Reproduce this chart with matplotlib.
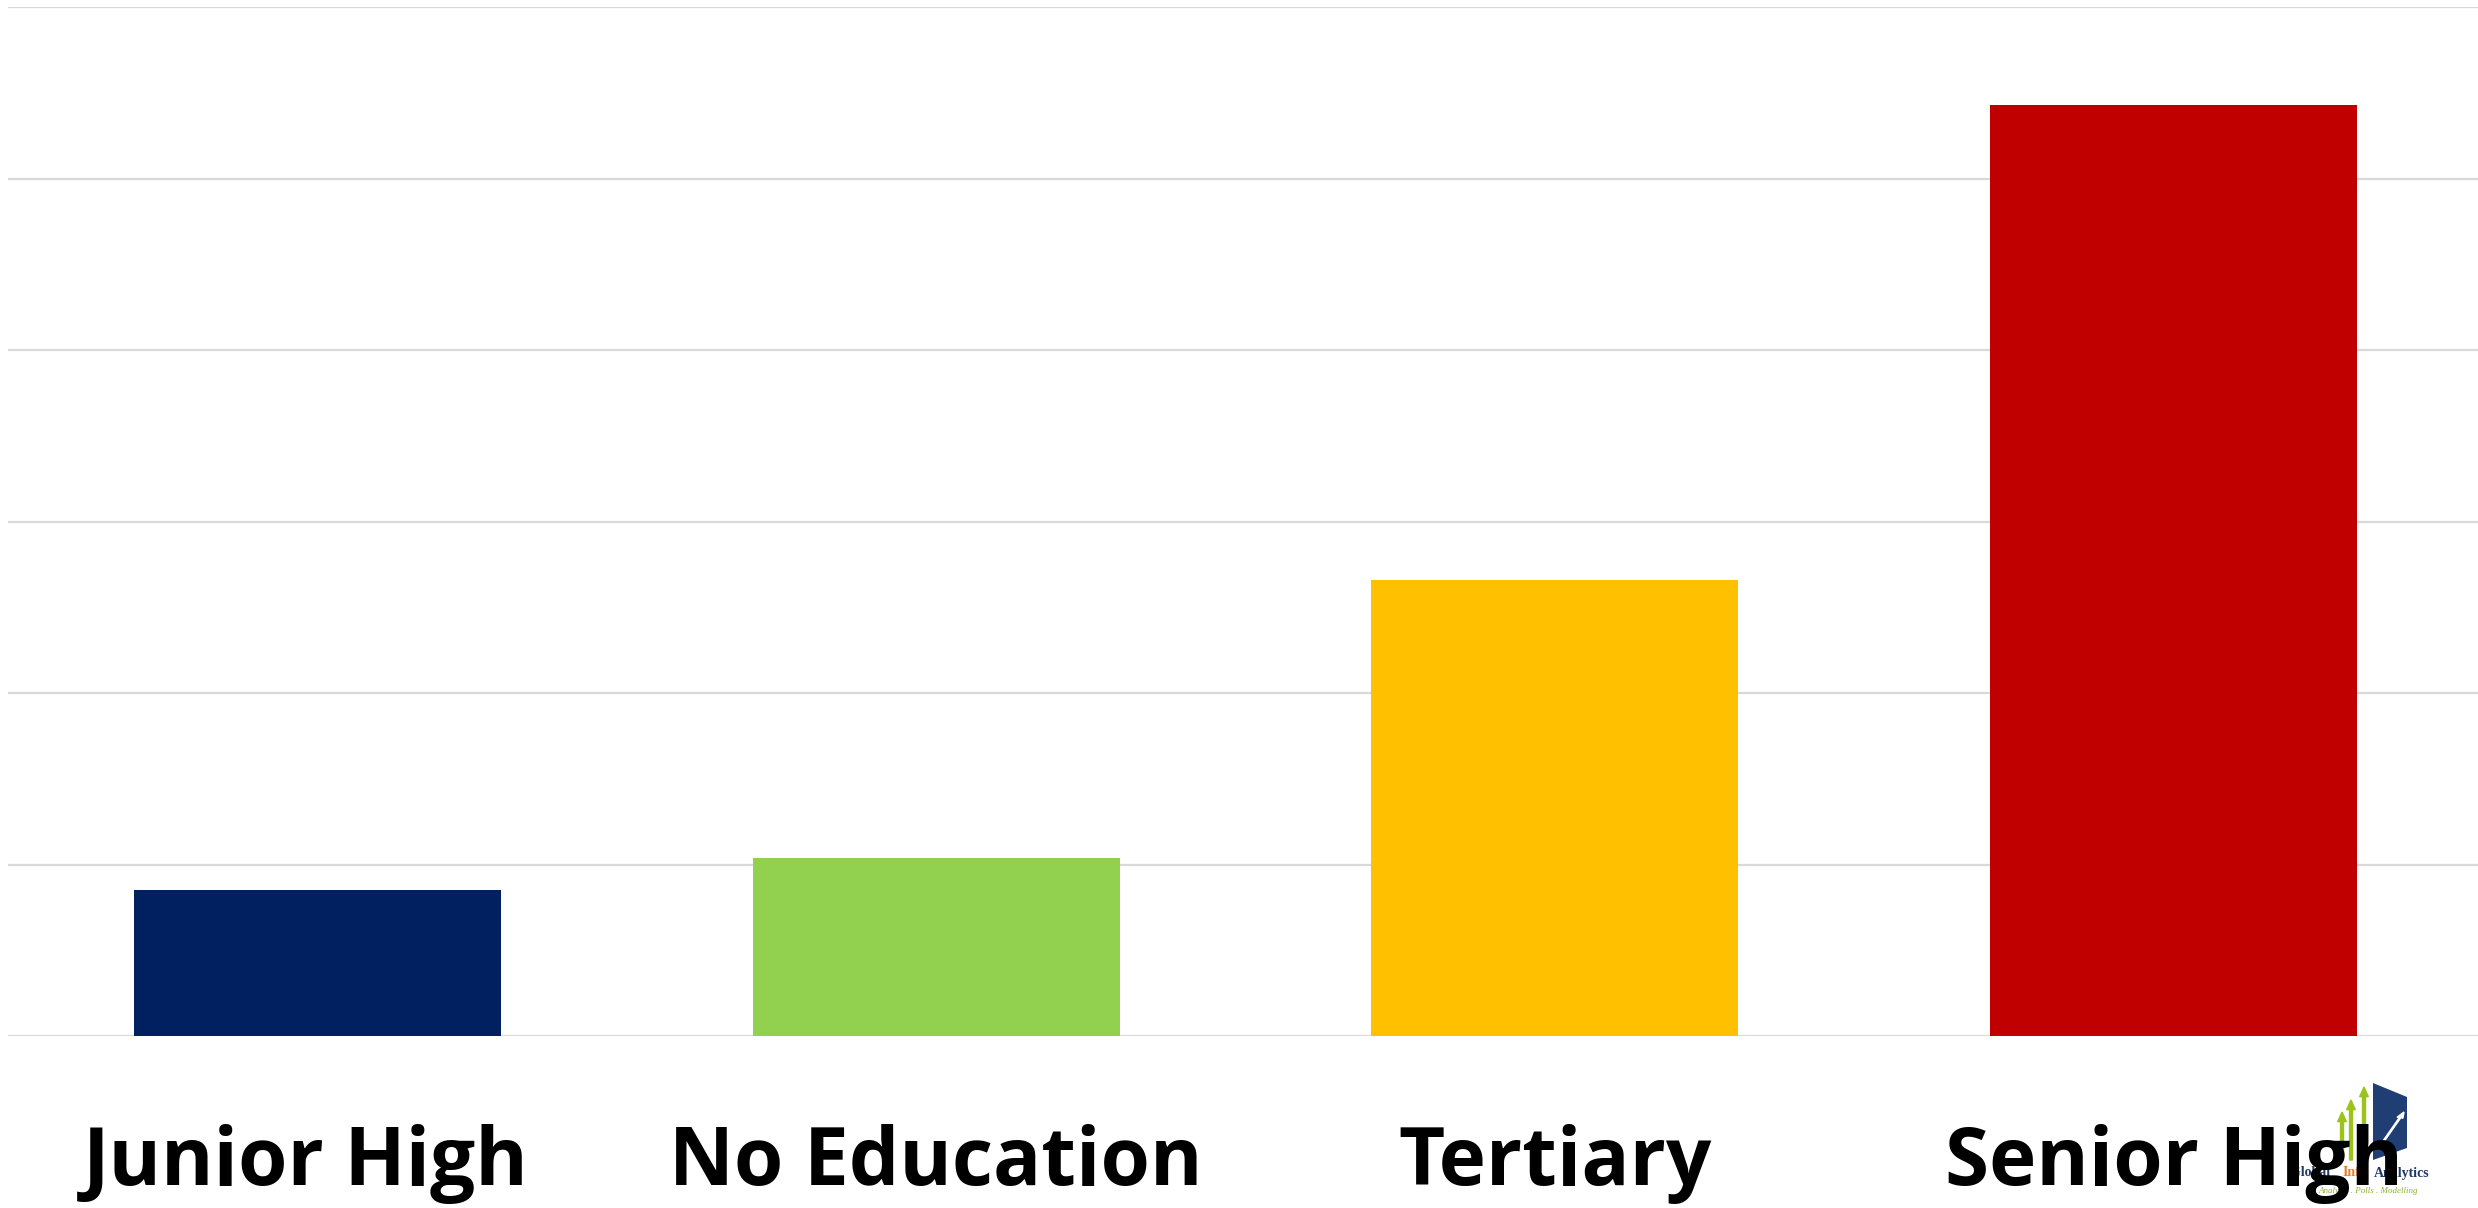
import matplotlib
matplotlib.use("Agg")
import matplotlib.pyplot as plt
import matplotlib.transforms as mtransforms
from matplotlib.patches import Polygon, FancyArrow

categories = ["Junior High", "No Education", "Tertiary", "Senior High"]
values = [8.5, 10.4, 26.6, 54.3]
colors = ["#002060", "#92D050", "#FFC000", "#C00000"]
yticks = [0, 10, 20, 30, 40, 50, 60]

fig = plt.figure(figsize=(24.78, 12.08), dpi=100)
ax = fig.add_axes([8/2478, 172/1208, (2483 - 8)/2478, 1029/1208])
ax.set_zorder(1)
ax.patch.set_alpha(0)

x = list(range(len(categories)))
ax.bar(x, values, width=0.593, color=colors, zorder=2)
ax.set_xlim(-0.5, len(categories) - 0.5)
ax.set_ylim(0, 60)
ax.set_yticks(yticks)
ax.yaxis.grid(True, color="#d9d9d9", linewidth=1.6, zorder=0)
ax.set_axisbelow(True)
ax.tick_params(axis="y", left=False, labelleft=False)
ax.tick_params(axis="x", bottom=False, pad=60)
ax.set_xticks(x)
ax.set_xticklabels(categories, fontfamily="Open Sans", fontweight="bold",
                   fontsize=57.5, color="black")
for s in ax.spines.values():
    s.set_visible(False)
# the first label sits slightly left of its bar centre in the reference
lbl0 = ax.get_xticklabels()[0]
lbl0.set_transform(lbl0.get_transform() +
                   mtransforms.ScaledTranslation(-0.12, 0, fig.dpi_scale_trans))

# Watermark logo (drawn beneath the axis labels)
def fx(px):
    return px / 2478
def fy(py):
    return 1 - py / 1208

book = Polygon([(fx(2373), fy(1083)), (fx(2407), fy(1097)), (fx(2407), fy(1148)),
                (fx(2373), fy(1160))], closed=True, transform=fig.transFigure,
               facecolor="#1F3E74", edgecolor="none", zorder=-2)
fig.patches.append(book)
for ax_x, top in [(2342, 1112), (2351, 1100), (2364, 1087)]:
    arr = FancyArrow(fx(ax_x), fy(1160), 0, fy(top) - fy(1160), width=0.0012,
                     head_width=0.0035, head_length=0.008, length_includes_head=True,
                     transform=fig.transFigure, color="#9BC31C", zorder=-2)
    fig.patches.append(arr)
zig = FancyArrow(fx(2383), fy(1142), fx(2404) - fx(2383), fy(1112) - fy(1142),
                 width=0.0006, head_width=0.0025, head_length=0.005,
                 length_includes_head=True, transform=fig.transFigure,
                 color="white", zorder=-1.5)
fig.patches.append(zig)
fig.text(fx(2290), fy(1173), "Global ", fontsize=10, fontfamily="Liberation Serif",
         fontweight="bold", color="#1F3864", va="center", ha="left", zorder=-1)
fig.text(fx(2343), fy(1173), "Info", fontsize=10, fontfamily="Liberation Serif",
         fontweight="bold", color="#F07B1E", va="center", ha="left", zorder=-1)
fig.text(fx(2374), fy(1173), "Analytics", fontsize=10, fontfamily="Liberation Serif",
         fontweight="bold", color="#1F3864", va="center", ha="left", zorder=-1)
fig.text(fx(2318), fy(1191), "Analysis . Polls . Modelling", fontsize=6.5,
         fontfamily="Liberation Serif", fontstyle="italic", color="#8DB32C",
         va="center", ha="left", zorder=-1)

fig.savefig("out.png", dpi=100, facecolor="white")
